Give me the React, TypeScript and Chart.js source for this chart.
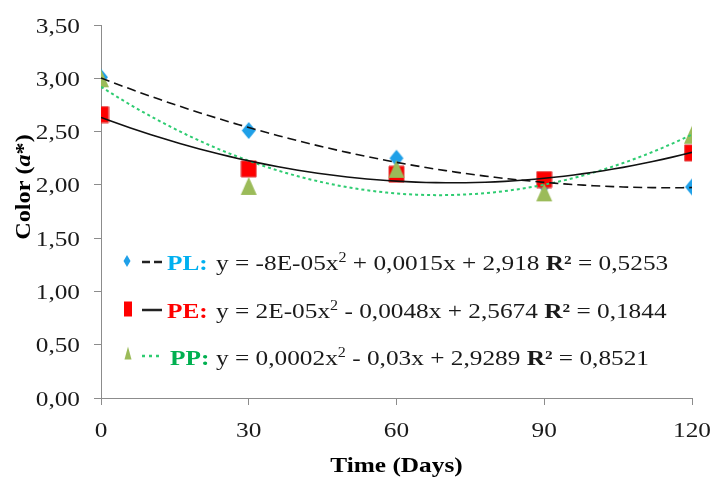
import { useEffect, useRef } from 'react';
import { Chart, registerables } from 'chart.js';

Chart.register(...registerables);

// ---- data ----
const days = [0, 30, 60, 90, 120];
const plValues = [3.01, 2.51, 2.25, 2.0, 1.98];
const peValues = [2.66, 2.15, 2.1, 2.05, 2.3];
const ppValues = [3.0, 1.99, 2.15, 1.93, 2.47];
const yTicks = [0, 0.5, 1, 1.5, 2, 2.5, 3, 3.5];
const xTicks = [0, 30, 60, 90, 120];
const seriesNames = ['PL:', 'PE:', 'PP:'];
const eqHead = ['y = -8E-05x', 'y = 2E-05x', 'y = 0,0002x'];
const eqTail = [' + 0,0015x + 2,918 ', ' - 0,0048x + 2,5674 ', ' - 0,03x + 2,9289 '];
const r2Values = [' = 0,5253', ' = 0,1844', ' = 0,8521'];
const xTitle = 'Time (Days)';

const SERIF = '"Liberation Serif", "Times New Roman", serif';
const SX = 1.15;
const BLUE = '#1FA0E8';
const RED = '#FF0000';
const OLIVE = '#9BBB59';
const GREEN_LINE = '#2ECC71';
const labelColors = ['#00B0F0', '#FF0000', '#00B050'];

function quadFit(xs: number[], ys: number[]) {
  const n = xs.length;
  const s = [0, 0, 0, 0, 0];
  const t = [0, 0, 0];
  for (let i = 0; i < n; i++) {
    const u = xs[i] / 120;
    for (let k = 0; k < 5; k++) s[k] += Math.pow(u, k);
    for (let k = 0; k < 3; k++) t[k] += ys[i] * Math.pow(u, k);
  }
  const A = [
    [s[0], s[1], s[2], t[0]],
    [s[1], s[2], s[3], t[1]],
    [s[2], s[3], s[4], t[2]],
  ];
  for (let i = 0; i < 3; i++) {
    for (let j = i + 1; j < 3; j++) {
      const f = A[j][i] / A[i][i];
      for (let k = i; k < 4; k++) A[j][k] -= f * A[i][k];
    }
  }
  const c = [0, 0, 0];
  for (let i = 2; i >= 0; i--) {
    let v = A[i][3];
    for (let k = i + 1; k < 3; k++) v -= A[i][k] * c[k];
    c[i] = v / A[i][i];
  }
  return (x: number) => {
    const u = x / 120;
    return c[0] + c[1] * u + c[2] * u * u;
  };
}

function trend(ys: number[]) {
  const f = quadFit(days, ys);
  const pts: { x: number; y: number }[] = [];
  for (let x = 0; x <= 120; x += 2) pts.push({ x, y: f(x) });
  return pts;
}

function toPts(ys: number[]) {
  return days.map((d, i) => ({ x: d, y: ys[i] }));
}

type Run = { t: string; f: string; c?: string; dy?: number };

function drawRuns(ctx: CanvasRenderingContext2D, x: number, y: number, runs: Run[], align: 'left' | 'right' | 'center' = 'left') {
  ctx.save();
  ctx.textBaseline = 'alphabetic';
  ctx.textAlign = 'left';
  let total = 0;
  const widths = runs.map((r) => {
    ctx.font = r.f;
    const w = ctx.measureText(r.t).width;
    total += w;
    return w;
  });
  let start = x;
  if (align === 'right') start = x - total * SX;
  if (align === 'center') start = x - (total * SX) / 2;
  ctx.translate(start, y);
  ctx.scale(SX, 1);
  let cx = 0;
  runs.forEach((r, i) => {
    ctx.font = r.f;
    ctx.fillStyle = r.c || '#1a1a1a';
    ctx.fillText(r.t, cx, r.dy || 0);
    cx += widths[i];
  });
  ctx.restore();
}

function makeMarker(kind: string, w: number, h: number, color: string, stroke?: string) {
  const c = document.createElement('canvas');
  c.width = w + 2;
  c.height = h + 2;
  const g = c.getContext('2d')!;
  g.fillStyle = color;
  g.beginPath();
  if (kind === 'diamond') {
    g.moveTo(1 + w / 2, 1);
    g.lineTo(1 + w, 1 + h / 2);
    g.lineTo(1 + w / 2, 1 + h);
    g.lineTo(1, 1 + h / 2);
  } else if (kind === 'square') {
    g.rect(1, 1, w, h);
  } else {
    g.moveTo(1 + w / 2, 1);
    g.lineTo(1 + w, 1 + h);
    g.lineTo(1, 1 + h);
  }
  g.closePath();
  g.fill();
  if (stroke) {
    g.strokeStyle = stroke;
    g.lineWidth = 1;
    g.stroke();
  }
  return c;
}

function legendMarker(ctx: CanvasRenderingContext2D, kind: string, cx: number, cy: number, w: number, h: number, color: string) {
  ctx.save();
  ctx.fillStyle = color;
  ctx.beginPath();
  if (kind === 'diamond') {
    ctx.moveTo(cx, cy - h / 2);
    ctx.lineTo(cx + w / 2, cy);
    ctx.lineTo(cx, cy + h / 2);
    ctx.lineTo(cx - w / 2, cy);
  } else if (kind === 'square') {
    ctx.rect(cx - w / 2, cy - h / 2, w, h);
  } else {
    ctx.moveTo(cx, cy - h / 2);
    ctx.lineTo(cx + w / 2, cy + h / 2);
    ctx.lineTo(cx - w / 2, cy + h / 2);
  }
  ctx.closePath();
  ctx.fill();
  ctx.restore();
}

const textPlugin = {
  id: 'customText',
  afterDraw(chart: any) {
    const ctx: CanvasRenderingContext2D = chart.ctx;
    const xs = chart.scales.x;
    const ys = chart.scales.y;
    const reg = `22px ${SERIF}`;
    const bold = `bold 22px ${SERIF}`;
    const sup = `14px ${SERIF}`;

    // y tick labels
    yTicks.forEach((v) => {
      const py = ys.getPixelForValue(v);
      drawRuns(ctx, 80, py + 7.5, [{ t: v.toFixed(2).replace('.', ','), f: reg }], 'right');
    });
    // x tick labels
    xTicks.forEach((v) => {
      const px = xs.getPixelForValue(v);
      drawRuns(ctx, px, 437, [{ t: String(v), f: reg }], 'center');
    });
    // x title
    drawRuns(ctx, (chart.chartArea.left + chart.chartArea.right) / 2, 472, [{ t: xTitle, f: bold, c: '#000' }], 'center');

    // y title (rotated)
    ctx.save();
    ctx.translate(30, 187);
    ctx.rotate(-Math.PI / 2);
    const runsY: Run[] = [
      { t: 'Color (', f: bold, c: '#000' },
      { t: 'a', f: `italic bold 22px ${SERIF}`, c: '#000' },
      { t: '*)', f: bold, c: '#000' },
    ];
    let tot = 0;
    const wsY = runsY.map((r) => {
      ctx.font = r.f;
      const w = ctx.measureText(r.t).width;
      tot += w;
      return w;
    });
    ctx.scale(1.1, 1);
    let cx = -tot / 2;
    runsY.forEach((r, i) => {
      ctx.font = r.f;
      ctx.fillStyle = r.c!;
      ctx.textBaseline = 'alphabetic';
      ctx.fillText(r.t, cx, 0);
      cx += wsY[i];
    });
    ctx.restore();

    // legend
    const rowsBase = [270, 318, 365];
    const rowsMid = [262, 310, 356];
    const nameX = [167, 167, 170];
    legendMarker(ctx, 'diamond', 127, rowsMid[0] - 1, 7, 12, BLUE);
    legendMarker(ctx, 'square', 128, rowsMid[1] - 1, 8, 15, RED);
    legendMarker(ctx, 'triangle', 128, rowsMid[2] - 3, 7, 13, OLIVE);
    ctx.save();
    ctx.lineWidth = 2.5;
    ctx.strokeStyle = '#222';
    ctx.setLineDash([8, 4]);
    ctx.beginPath();
    ctx.moveTo(142, rowsMid[0]);
    ctx.lineTo(162, rowsMid[0]);
    ctx.stroke();
    ctx.setLineDash([]);
    ctx.beginPath();
    ctx.moveTo(142, rowsMid[1]);
    ctx.lineTo(162, rowsMid[1]);
    ctx.stroke();
    ctx.strokeStyle = GREEN_LINE;
    ctx.setLineDash([3, 4]);
    ctx.beginPath();
    ctx.moveTo(142, rowsMid[2]);
    ctx.lineTo(163, rowsMid[2]);
    ctx.stroke();
    ctx.restore();

    for (let i = 0; i < 3; i++) {
      drawRuns(ctx, nameX[i], rowsBase[i], [{ t: seriesNames[i], f: bold, c: labelColors[i] }]);
      drawRuns(ctx, 216, rowsBase[i], [
        { t: eqHead[i], f: reg },
        { t: '2', f: sup, dy: -8 },
        { t: eqTail[i], f: reg },
        { t: 'R²', f: bold },
        { t: r2Values[i], f: reg },
      ]);
    }
  },
};

export default function App() {
  const ref = useRef<HTMLCanvasElement | null>(null);
  useEffect(() => {
    if (!ref.current) return;
    const diamond = makeMarker('diamond', 14, 17, BLUE);
    const square = makeMarker('square', 15, 16, RED, '#E23A3A');
    const tri = makeMarker('triangle', 16, 18, OLIVE);
    const axisColor = '#8c8c8c';
    const chart = new Chart(ref.current, {
      type: 'scatter',
      data: {
        datasets: [
          { label: 'PL trend', data: trend(plValues), showLine: true, pointRadius: 0, borderColor: '#111', borderWidth: 1.6, borderDash: [9, 5], order: 0 },
          { label: 'PE trend', data: trend(peValues), showLine: true, pointRadius: 0, borderColor: '#111', borderWidth: 1.6, order: 0 },
          { label: 'PP trend', data: trend(ppValues), showLine: true, pointRadius: 0, borderColor: GREEN_LINE, borderWidth: 2, borderDash: [3, 3], order: 0 },
          { label: 'PL', data: toPts(plValues), pointStyle: diamond as any, pointRadius: 9, order: 3 },
          { label: 'PE', data: toPts(peValues), pointStyle: square as any, pointRadius: 9, order: 2 },
          { label: 'PP', data: toPts(ppValues), pointStyle: tri as any, pointRadius: 9, order: 1 },
        ] as any,
      },
      options: {
        animation: false,
        responsive: false,
        devicePixelRatio: 1,
        layout: { padding: { top: 25, right: 19, left: 0, bottom: 0 } },
        plugins: { legend: { display: false }, tooltip: { enabled: false } },
        scales: {
          x: {
            type: 'linear',
            min: 0,
            max: 120,
            ticks: { stepSize: 30, display: false },
            grid: { drawOnChartArea: false, drawTicks: true, tickLength: 7, color: axisColor },
            border: { display: true, color: axisColor, width: 1 },
            afterFit: (s: any) => {
              s.height = 79;
            },
          },
          y: {
            type: 'linear',
            min: 0,
            max: 3.5,
            ticks: { stepSize: 0.5, display: false },
            grid: { drawOnChartArea: false, drawTicks: true, tickLength: 7, color: axisColor },
            border: { display: true, color: axisColor, width: 1 },
            afterFit: (s: any) => {
              s.width = 101;
            },
          },
        },
      } as any,
      plugins: [textPlugin],
    });
    return () => chart.destroy();
  }, []);
  return (
    <div style={{ position: 'absolute', left: 0, top: 0, width: 711, height: 477, background: '#fff' }}>
      <canvas ref={ref} width={711} height={477} />
    </div>
  );
}
